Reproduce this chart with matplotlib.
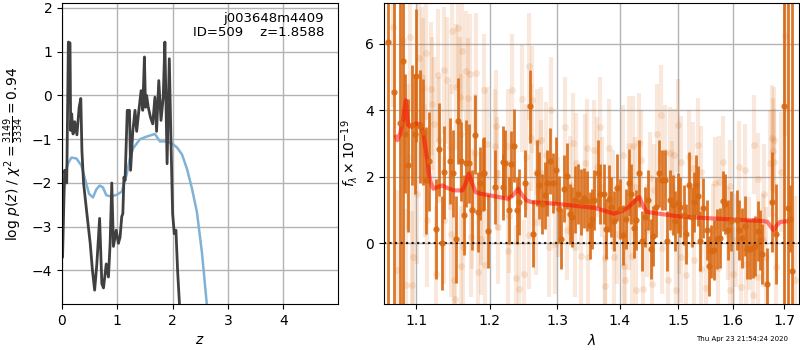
import numpy as np
import matplotlib
matplotlib.use("Agg")
import matplotlib.pyplot as plt
from matplotlib.ticker import FixedLocator, NullLocator

# --- left panel: redshift fit ---
z_grid = [0.0, 0.01, 0.036, 0.05, 0.085, 0.09, 0.115, 0.145, 0.157, 0.175, 0.20, 0.23,
          0.27, 0.31, 0.34, 0.36, 0.39, 0.45, 0.51, 0.55, 0.59, 0.63, 0.68, 0.72,
          0.75, 0.80, 0.84, 0.87, 0.90, 0.93, 0.98, 1.02, 1.05, 1.08, 1.10, 1.12,
          1.14, 1.18, 1.22, 1.24, 1.28, 1.32, 1.35, 1.39, 1.43, 1.46, 1.49, 1.51,
          1.53, 1.56, 1.60, 1.64, 1.68, 1.71, 1.75, 1.79, 1.83, 1.86, 1.90, 1.94,
          1.97, 2.00, 2.03, 2.06, 2.09, 2.125, 2.16]
log_pz = [-3.70, -3.70, -2.32, -1.71, -2.00, -1.55, 1.22, 1.20, -0.80, -0.42, -0.88, -0.60,
          -0.90, -0.27, -0.07, -1.26, -2.00, -2.70, -3.38, -3.99, -4.45, -3.85, -2.81, -4.30,
          -4.40, -3.85, -4.15, -3.38, -2.00, -3.45, -3.08, -3.38, -3.24, -2.77, -2.70, -1.87,
          -1.94, -0.34, -0.34, -1.71, -0.82, -0.34, -0.82, -0.34, 0.11, -0.34, 0.88, -0.27,
          0.00, -0.27, -0.50, -0.65, -0.04, -0.82, 0.34, -0.57, -0.04, 1.22, -1.56, 0.84,
          -1.03, -2.70, -3.16, -3.08, -4.00, -4.80, -5.50]

z_chi = [0.0, 0.05, 0.11, 0.17, 0.26, 0.35, 0.41, 0.49, 0.56, 0.62, 0.68, 0.74, 0.80,
         0.89, 0.99, 1.08, 1.17, 1.23, 1.29, 1.41, 1.53, 1.68, 1.77, 1.90, 1.99, 2.08,
         2.17, 2.26, 2.35, 2.44, 2.53, 2.62, 2.70]
chi_curve = [-2.75, -1.80, -1.55, -1.42, -1.44, -1.60, -1.88, -2.25, -2.33, -2.15, -2.06,
             -2.10, -2.28, -2.31, -2.27, -2.20, -1.80, -1.42, -1.20, -1.00, -0.94, -0.88,
             -1.05, -1.05, -1.10, -1.19, -1.35, -1.68, -2.13, -2.67, -3.59, -4.80, -6.0]

# --- right panel: spectrum ---
bold_wave = [1.0641, 1.0721, 1.0794, 1.0828, 1.0858, 1.0901, 1.0944, 1.0987, 1.1004, 1.1052,
             1.1091, 1.1131, 1.1171, 1.1268, 1.1308, 1.1339, 1.1375, 1.1456, 1.1497, 1.1528,
             1.1565, 1.1607, 1.1648, 1.1670, 1.1707, 1.1758, 1.1800, 1.1842, 1.1865, 1.1902,
             1.1925, 1.1983,
             1.2073, 1.2184, 1.2193, 1.2227, 1.2275, 1.2314, 1.2353, 1.2392, 1.2426, 1.2514,
             1.2589, 1.2638, 1.2688, 1.2723, 1.2768, 1.2808, 1.2849, 1.2889, 1.2940, 1.2986,
             1.3022, 1.3063, 1.3104, 1.3156, 1.3192, 1.3228, 1.3281, 1.3323, 1.3365, 1.3418,
             1.3465, 1.3508, 1.3545,
             1.3574, 1.3643, 1.3681, 1.3735, 1.3779, 1.3817, 1.3861, 1.3910, 1.3959, 1.4003,
             1.4053, 1.4097, 1.4147, 1.4191, 1.4242, 1.4276, 1.4321, 1.4377, 1.4428, 1.4475,
             1.4526, 1.4566, 1.4612, 1.4670, 1.4722, 1.4763, 1.4809, 1.4861, 1.4904, 1.4950,
             1.4997, 1.5038, 1.5099, 1.5146, 1.5200, 1.5248, 1.5290, 1.5326,
             1.5362, 1.5398, 1.5453, 1.5515, 1.5563, 1.5594, 1.5655, 1.5700, 1.5761, 1.5823,
             1.5860, 1.5916, 1.5967, 1.6075, 1.6125, 1.6170, 1.6234, 1.6278, 1.6330, 1.6382,
             1.6426, 1.6479, 1.6524, 1.6563, 1.6668, 1.6760, 1.6841, 1.7003, 1.7078, 1.7118,
             1.7171]
bold_flux = [6.04, 4.54, 3.63, 5.49, 3.30, 2.35, 3.55, 3.28, 5.04, 3.52,
             3.35, 1.89, 2.46, 0.44, 2.83, 0.01, 2.14, 2.47, 2.10, 0.12,
             3.67, 2.46, 0.84, 2.40, 2.40, 0.99, 3.27, 0.93, 1.80, 2.08,
             2.10, 0.37,
             1.69, 1.69, 2.44, 2.42, 0.99, 2.38, 2.94, 0.99, 1.24, 1.80,
             4.12, 0.29, 2.12, 1.74, 1.19, 1.44, 1.81, 2.48, 1.81, 2.19,
             1.02, 0.12, 1.64, 2.02, 0.89, 0.79, 1.31, 1.49, 1.24, 1.37,
             1.27, 0.54, 0.73,
             1.30, 2.10, 1.49, 1.49, 0.43, 1.34, 1.09, 0.67, 1.67, 1.04,
             0.24, 0.74, 1.82, 1.47, 0.47, 0.71, 2.10, 0.07, 0.79, 1.30,
             -0.18, 0.23, 1.09, 2.10, 1.90, 1.90, 0.07, 1.30, 1.15, 0.67,
             1.22, 1.09, 0.84, 0.27, 1.74, 0.79, 1.24, 1.74,
             1.41, 0.06, 1.07, 0.39, -0.68, -0.24, -0.21, 0.12, 0.16, 1.26,
             1.17, 0.41, 0.67, 0.69, 0.41, 0.17, 0.51, -0.16, -0.16, -0.13,
             -0.09, 0.37, 0.09, -0.33, -1.23, 1.24, 0.29, 4.12, 1.07, 0.74,
             -0.84]
bold_err = [9.0, 9.0, 6.0, 8.0, 1.8, 2.0, 1.8, 1.8, 2.0, 1.7,
            1.6, 1.6, 1.5, 1.5, 1.4, 1.4, 1.4, 1.3, 1.3, 1.3,
            1.3, 1.2, 1.2, 1.3, 1.2, 1.2, 1.2, 1.2, 1.1, 1.1,
            1.1, 1.1,
            1.1, 1.0, 1.1, 1.0, 1.0, 1.0, 1.1, 1.0, 1.0, 1.0,
            1.1, 1.0, 1.0, 1.0, 0.9, 1.0, 1.0, 1.0, 0.9, 1.0,
            1.0, 0.9, 1.0, 1.0, 0.9, 0.9, 1.0, 0.9, 1.0, 0.9,
            0.9, 1.0, 0.9,
            0.9, 1.0, 0.9, 0.9, 0.9, 1.0, 0.9, 0.9, 1.0, 0.9,
            0.9, 0.9, 1.0, 0.9, 0.9, 0.9, 1.0, 0.9, 0.9, 0.9,
            0.9, 0.9, 0.9, 1.0, 0.9, 0.9, 0.9, 0.9, 0.9, 0.9,
            0.9, 0.9, 0.9, 0.9, 1.0, 0.9, 0.9, 0.9,
            0.9, 0.9, 0.9, 0.9, 0.9, 0.8, 0.9, 0.9, 0.9, 0.9,
            0.9, 0.9, 0.9, 0.9, 0.9, 0.9, 0.9, 0.9, 0.9, 0.9,
            0.9, 0.9, 0.9, 0.9, 1.1, 1.5, 1.5, 9.0, 9.0, 1.0,
            9.0]

faint_wave = [1.0708, 1.0759, 1.0836, 1.0867, 1.0900, 1.0922, 1.0952, 1.0965, 1.1017, 1.1039,
              1.1074, 1.1095, 1.1120, 1.1135, 1.1148, 1.1193, 1.1214, 1.1240, 1.1268, 1.1294,
              1.1300, 1.1370, 1.1375, 1.1415, 1.1450, 1.1461, 1.1483, 1.1506, 1.1515, 1.1528,
              1.1560, 1.1583, 1.1597, 1.1600, 1.1610, 1.1632, 1.1665, 1.1700, 1.1723, 1.1744,
              1.1758, 1.1800, 1.1814, 1.1837, 1.1874, 1.1883, 1.1920, 1.1930, 1.1960,
              1.2073, 1.2097, 1.2107, 1.2121, 1.2265, 1.2265, 1.2285, 1.2327, 1.2386, 1.2426,
              1.2475, 1.2493, 1.2532, 1.2578, 1.2578, 1.2608, 1.2623, 1.2684, 1.2698, 1.2748,
              1.2758, 1.2834, 1.2875, 1.2900, 1.2960, 1.3012, 1.3116, 1.3151, 1.3192, 1.3251,
              1.3281, 1.3296, 1.3365, 1.3428, 1.3470, 1.3481,
              1.3574, 1.3623, 1.3681, 1.3708, 1.3762, 1.3762, 1.3826, 1.3894, 1.3906, 1.3955,
              1.4053, 1.4069, 1.4092, 1.4147, 1.4157, 1.4202, 1.4214, 1.4259, 1.4276, 1.4325,
              1.4359, 1.4383, 1.4454, 1.4500, 1.4539, 1.4569, 1.4633, 1.4701, 1.4712, 1.4763,
              1.4818, 1.4850, 1.4891, 1.4933, 1.4958, 1.4997, 1.5009, 1.5056, 1.5056, 1.5146,
              1.5188, 1.5261, 1.5279,
              1.5353, 1.5410, 1.5410, 1.5502, 1.5625, 1.5673, 1.5716, 1.5734, 1.5811, 1.5904,
              1.5948, 1.5954, 1.6010, 1.6062, 1.6125, 1.6164, 1.6240, 1.6253, 1.6317, 1.6382,
              1.6414, 1.6479, 1.6479, 1.6577, 1.6609, 1.6641, 1.6721, 1.6761, 1.6786, 1.6806,
              1.6806, 1.6841, 1.6942, 1.7010, 1.7232]
faint_flux = [6.51, -0.79, 6.11, -1.26, 2.60, 6.20, -1.24, -0.41, 1.49, 5.58,
              5.00, 4.68, 2.20, 5.72, 0.69, 4.65, 4.20, 3.60, -0.91, 5.05,
              3.10, 0.69, 5.20, 4.90, 2.90, 0.29, 6.38, -1.11, -1.68, 4.70,
              6.46, 4.40, -0.69, 3.30, 5.77, -0.11, 5.17, 4.37, 5.08, 0.19,
              1.04, 2.70, 5.13, -0.86, 0.14, 1.04, 4.60, -0.66, 3.00,
              2.93, 3.52, 2.10, 0.49, 2.93, -0.23, 0.81, 4.60, -1.04, -1.38,
              4.35, -0.91, 2.60, 5.32, 0.24, 3.18, 4.32, 0.64, 3.05, 3.10,
              2.10, 2.65, -0.11, 4.00, -0.01, 1.09, 3.50, 0.41, 1.74, 3.02,
              -0.11, 2.42, -0.39, 2.40, 2.85, -0.41,
              2.80, 2.30, 3.50, 1.69, -0.43, -1.28, 2.85, 1.29, -0.41, 0.29,
              2.65, -0.68, -1.09, 0.69, 2.93, -0.39, 2.93, 1.69, -1.41, 3.03,
              2.50, -1.38, 0.39, 1.96, -1.21, 1.59, 3.30, 3.85, -0.13, 2.75,
              -1.11, 2.70, 1.69, 2.64, -1.41, 3.55, 0.49, 2.43, -0.41, -0.96,
              2.60, 2.25, -0.51,
              2.97, 2.14, -0.76, -1.33, 0.39, 1.81, -0.74, 1.84, 2.43, 0.29,
              1.71, -1.39, -0.91, 0.09, 2.28, -1.31, 2.20, -0.61, -0.01, -1.56,
              2.97, 1.92, -1.01, 0.09, 1.49, -0.41, 2.40, 3.17, 2.77, 3.10,
              2.43, -0.71, 2.14, 6.23, -1.09]
faint_err = [2.4, 2.4, 2.3, 2.3, 2.2, 2.2, 2.2, 2.2, 2.1, 2.1,
             2.1, 2.1, 2.0, 2.0, 2.0, 2.0, 2.0, 2.0, 2.0, 2.0,
             1.9, 1.9, 1.9, 1.9, 1.9, 1.9, 1.9, 1.9, 1.9, 1.9,
             1.8, 1.8, 1.8, 1.8, 1.8, 1.8, 1.8, 1.8, 1.8, 1.8,
             1.8, 1.8, 1.8, 1.8, 1.7, 1.7, 1.7, 1.7, 1.7,
             1.7, 1.7, 1.7, 1.7, 1.7, 1.7, 1.7, 1.7, 1.6, 1.6,
             1.6, 1.6, 1.6, 1.6, 1.6, 1.6, 1.6, 1.6, 1.6, 1.6,
             1.6, 1.6, 1.5, 1.6, 1.5, 1.5, 1.5, 1.5, 1.5, 1.5,
             1.5, 1.5, 1.5, 1.5, 1.5, 1.5,
             1.5, 1.5, 1.5, 1.5, 1.5, 1.5, 1.5, 1.5, 1.5, 1.5,
             1.5, 1.5, 1.5, 1.5, 1.5, 1.5, 1.5, 1.5, 1.5, 1.5,
             1.5, 1.5, 1.4, 1.4, 1.4, 1.4, 1.5, 1.5, 1.4, 1.4,
             1.4, 1.4, 1.4, 1.4, 1.4, 1.4, 1.4, 1.4, 1.4, 1.4,
             1.4, 1.4, 1.4,
             1.4, 1.4, 1.4, 1.4, 1.4, 1.4, 1.4, 1.4, 1.4, 1.4,
             1.4, 1.4, 1.4, 1.4, 1.4, 1.4, 1.4, 1.4, 1.4, 1.4,
             1.5, 1.4, 1.4, 1.4, 1.5, 1.5, 1.6, 1.6, 1.6, 1.6,
             1.6, 1.6, 1.8, 3.0, 2.5]

model_wave = [1.0744, 1.0759, 1.0794, 1.0832, 1.0867, 1.0897, 1.0939, 1.1004, 1.1052, 1.1095,
              1.1140, 1.1183, 1.1227, 1.1280, 1.1348, 1.1415, 1.1506, 1.1619, 1.1665, 1.1710,
              1.1747, 1.1802, 1.1874, 1.2004, 1.2265, 1.2337, 1.2410, 1.2458, 1.2532, 1.2608,
              1.2960, 1.3577, 1.3762, 1.3900, 1.4036, 1.4147, 1.4259, 1.4325, 1.4400, 1.4454,
              1.4655, 1.5009, 1.5357, 1.5935, 1.6577, 1.6674, 1.6740, 1.6792, 1.6854, 1.6920,
              1.7040]
model_flux = [3.20, 3.10, 3.30, 3.70, 4.30, 3.55, 3.50, 3.60, 3.58, 3.30,
              2.60, 1.89, 1.64, 1.69, 1.74, 1.66, 1.59, 1.59, 1.80, 2.10,
              1.84, 1.54, 1.49, 1.44, 1.34, 1.44, 1.64, 1.49, 1.29, 1.24,
              1.19, 1.07, 0.97, 0.89, 0.97, 1.09, 1.29, 1.39, 1.09, 0.94,
              0.89, 0.81, 0.77, 0.72, 0.67, 0.64, 0.49, 0.39, 0.54, 0.64,
              0.66]

spec_color = (0.85, 0.41, 0.07)

fig = plt.figure(figsize=(8, 3.5), dpi=100)
ax1 = fig.add_axes([0.0775, 0.131, 0.345, 0.86])
ax2 = fig.add_axes([0.48, 0.131, 0.5185, 0.86])

ax1.plot(z_chi, chi_curve, color="#7fb2d6", lw=1.8)
ax1.plot(z_grid, log_pz, color="0.25", lw=2)
ax1.set_xlim(0, 4.99)
ax1.set_ylim(-4.77, 2.11)
ax1.set_xticks([0, 1, 2, 3, 4])
ax1.grid(True, color="0.7", lw=1)
ax1.set_axisbelow(True)
ax1.set_xlabel("$z$", fontsize=10)
ax1.set_ylabel(r"log $p(z)$ / $\chi^2=\frac{3149}{3334}=0.94$", fontsize=10)
ax1.text(0.95, 0.97, "j003648m4409\nID=509    z=1.8588", transform=ax1.transAxes,
         ha="right", va="top", fontsize=9.5, linespacing=1.1)

ax2.errorbar(faint_wave, faint_flux, yerr=faint_err, fmt="o", ms=5, color=spec_color,
             alpha=0.15, lw=3, elinewidth=3, capsize=0, mec="none")
ax2.errorbar(bold_wave, bold_flux, yerr=bold_err, fmt="o", ms=4.5, color=spec_color,
             lw=2, elinewidth=2, capsize=0, mec="none", alpha=0.9)
ax2.plot(model_wave, model_flux, color="red", alpha=0.5, lw=3)
ax2.axhline(0, color="k", ls=":", lw=1.5, alpha=0.9)

ax2.set_xscale("log")
ax2.set_xlim(1.059, 1.73)
ax2.set_ylim(-1.83, 7.22)
ax2.xaxis.set_major_locator(FixedLocator([1.1, 1.2, 1.3, 1.4, 1.5, 1.6, 1.7]))
ax2.xaxis.set_minor_locator(NullLocator())
ax2.set_xticklabels(["1.1", "1.2", "1.3", "1.4", "1.5", "1.6", "1.7"])
ax2.set_yticks([0, 2, 4, 6])
ax2.grid(True, color="0.7", lw=1)
ax2.set_axisbelow(True)
ax2.set_xlabel(r"$\lambda$", fontsize=10)
ax2.set_ylabel(r"$f_\lambda\times 10^{-19}$", fontsize=10)

fig.text(0.985, 0.022, "Thu Apr 23 21:54:24 2020", ha="right", va="bottom", fontsize=5)

fig.savefig("out.png", dpi=100)
